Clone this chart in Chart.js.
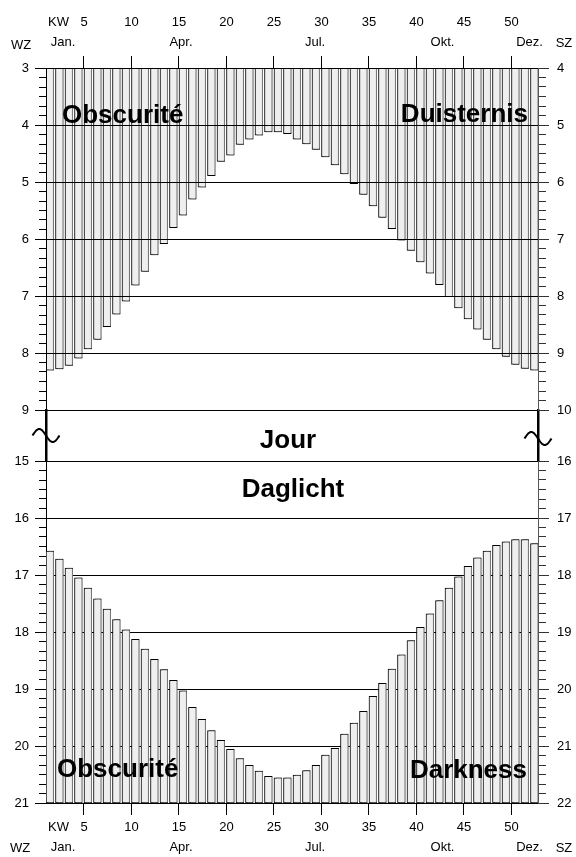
<!DOCTYPE html>
<html><head><meta charset="utf-8">
<script src="https://cdn.jsdelivr.net/npm/chart.js@4.4.1/dist/chart.umd.min.js"></script>
<style>html,body{margin:0;padding:0;background:#fff;}canvas{display:block;}</style>
</head><body>
<canvas id="c" width="576" height="857"></canvas>
<script>
// ---- data ----
const weeks = [1,2,3,4,5,6,7,8,9,10,11,12,13,14,15,16,17,18,19,20,21,22,23,24,25,26,
               27,28,29,30,31,32,33,34,35,36,37,38,39,40,41,42,43,44,45,46,47,48,49,50,51,52];
// sunrise (winter time, hours)
const sunriseWZ = [8.30,8.28,8.22,8.09,7.93,7.76,7.54,7.32,7.09,6.81,
                   6.57,6.28,6.08,5.80,5.58,5.30,5.09,4.89,4.64,4.53,
                   4.34,4.25,4.18,4.12,4.12,4.15,4.25,4.33,4.43,4.56,
                   4.70,4.86,5.03,5.22,5.42,5.62,5.82,6.02,6.20,6.40,
                   6.60,6.80,7.01,7.21,7.40,7.58,7.76,7.93,8.06,8.20,
                   8.27,8.30];
// sunset (winter time, hours)
const sunsetWZ = [16.58,16.72,16.88,17.05,17.23,17.42,17.60,17.78,17.96,18.13,
                  18.30,18.48,18.66,18.85,19.03,19.32,19.53,19.73,19.90,20.06,
                  20.22,20.34,20.44,20.53,20.56,20.56,20.51,20.43,20.34,20.16,
                  20.04,19.79,19.60,19.39,19.13,18.90,18.65,18.40,18.15,17.92,
                  17.68,17.45,17.23,17.03,16.85,16.70,16.58,16.48,16.42,16.38,
                  16.38,16.45];
const kwTickWeeks = [5,10,15,20,25,30,35,40,45,50];
const monthLabels = ['Jan.','Apr.','Jul.','Okt.','Dez.'];
const monthTickPos = [2.39,14.81,28.92,42.34,51.5];
const kwLabel = 'KW';
const kwLabelPos = 1.92;
const morningRange = [3, 9];    // WZ hours, upper panel
const eveningRange = [15, 21];  // WZ hours, lower panel
const szOffset = 1;             // SZ = WZ + 1

// ---- layout / style ----
const FONT = "'Liberation Sans', Arial, Helvetica, sans-serif";
const LEFT_W = 46, RIGHT_W = 38, TOP_H = 68, BOTTOM_H = 54;
const X_MIN = 0.6, X_MAX = 52.39;
const GAP_WEIGHT = 51/57;

Chart.defaults.font.family = FONT;
Chart.defaults.font.size = 13;
Chart.defaults.color = '#000';

const isHour = v => Math.abs(v - Math.round(v)) < 1e-6;
function hourTicks(scale) {
  const t = [];
  const n = Math.round((scale.max - scale.min) * 6);
  for (let k = 0; k <= n; k++) t.push({value: scale.min + k / 6});
  scale.ticks = t;
}
function yAxis(range, pos, weight, gridZ) {
  const right = pos === 'right';
  return {
    type: 'linear', position: pos, stack: pos, stackWeight: range[1] - range[0], weight: weight,
    min: range[0], max: range[1], reverse: true,
    afterBuildTicks: hourTicks,
    afterFit: s => { s.width = right ? RIGHT_W : LEFT_W; },
    ticks: { autoSkip: false, padding: right ? 8 : 6, color: '#000', font: {size: 13},
      callback: v => isHour(v) ? String(Math.round(v)) : '' },
    grid: {
      z: gridZ, drawOnChartArea: !right, lineWidth: 1, tickWidth: 1, tickLength: 11,
      color: c => (c.tick && isHour(c.tick.value)) ? '#000' : 'rgba(0,0,0,0)',
      tickColor: right ? '#333' : '#000',
      tickBorderDash: c => (c.tick && isHour(c.tick.value)) ? [] : (right ? [7, 40] : [0, 4, 40])
    },
    border: { z: Math.max(gridZ, 0), display: true, color: right ? '#555' : '#000', width: 1 }
  };
}
function gapAxis(pos, weight) {
  return {
    type: 'linear', position: pos, stack: pos, stackWeight: GAP_WEIGHT, weight: weight,
    min: 0, max: 1,
    afterFit: s => { s.width = pos === 'right' ? RIGHT_W : LEFT_W; },
    ticks: { display: false }, grid: { display: false },
    border: { display: true, color: '#000', width: 2.5 }
  };
}
function xTicks(pos) {
  const top = pos === 'top';
  const t = [{value: kwLabelPos, _lbl: top ? [kwLabel, ''] : kwLabel, _major: false}];
  kwTickWeeks.forEach(w => t.push({value: w - 0.4, _lbl: top ? [String(w), ''] : String(w), _major: true}));
  monthLabels.forEach((m, i) => t.push({value: monthTickPos[i], _lbl: top ? m : ['', m], _major: false}));
  t.sort((a, b) => a.value - b.value);
  return t;
}
function xAxis(pos) {
  const markColor = c => (c.tick && c.tick._major) ? '#000' : 'rgba(0,0,0,0)';
  return {
    type: 'linear', position: pos, min: X_MIN, max: X_MAX, offset: false,
    afterBuildTicks: s => { s.ticks = xTicks(pos); },
    afterFit: s => { s.height = pos === 'top' ? TOP_H : BOTTOM_H; },
    ticks: { autoSkip: false, maxRotation: 0, minRotation: 0, padding: pos === 'top' ? 4 : 2,
      color: '#000', font: {size: 13, lineHeight: 20/13},
      callback: (v, i, ticks) => ticks[i]._lbl },
    grid: { drawOnChartArea: false, offset: false, tickLength: 12, lineWidth: 1,
      color: markColor, tickColor: markColor },
    border: { display: true, color: '#000', width: 1 }
  };
}

const barStyle = {
  backgroundColor: '#efefef', borderColor: '#000', borderWidth: 1, borderSkipped: false,
  grouped: false, barThickness: 7.6, clip: 0
};

const decor = {
  id: 'decor',
  beforeDatasetsDraw(chart) {
    const c = chart.ctx; c.save();
    c.shadowColor = '#808080'; c.shadowOffsetX = 2; c.shadowOffsetY = 0; c.shadowBlur = 0;
  },
  afterDatasetsDraw(chart) { chart.ctx.restore(); },
  afterDraw(chart) {
    const ctx = chart.ctx, a = chart.chartArea;
    ctx.save();
    ctx.fillStyle = '#000';
    ctx.font = 'bold 26px ' + FONT;
    ctx.textBaseline = 'alphabetic';
    ctx.textAlign = 'left';
    ctx.fillText('Obscurité', a.left + 16, 123);
    ctx.fillText('Obscurité', a.left + 11, 777);
    ctx.textAlign = 'right';
    ctx.fillText('Duisternis', a.right - 10, 122);
    ctx.fillText('Darkness', a.right - 11, 778);
    ctx.textAlign = 'center';
    ctx.fillText('Jour', 288, 448);
    ctx.fillText('Daglicht', 293, 497);
    // time zone labels
    ctx.font = '13px ' + FONT;
    ctx.textBaseline = 'middle';
    ctx.fillText('WZ', 21, 45);
    ctx.fillText('WZ', 20, 848);
    ctx.fillText('SZ', 564, 43);
    ctx.fillText('SZ', 564, 848);
    // axis break symbols
    const yT = chart.scales.yTop, yB = chart.scales.yBot;
    const mid = (yT.bottom + yB.top) / 2;
    const tilde = (cx, cy) => {
      ctx.beginPath();
      for (let i = 0; i <= 48; i++) {
        const t = i / 48, x = cx - 13.5 + 27 * t, y = cy - 6.5 * Math.sin(2 * Math.PI * t);
        if (i) ctx.lineTo(x, y); else ctx.moveTo(x, y);
      }
      ctx.lineWidth = 2; ctx.strokeStyle = '#000'; ctx.stroke();
    };
    tilde(a.left, mid);
    tilde(a.right, mid + 3);
    ctx.restore();
  }
};

new Chart(document.getElementById('c'), {
  type: 'bar',
  data: {
    datasets: [
      Object.assign({ label: 'Sonnenaufgang (WZ)', xAxisID: 'x', yAxisID: 'yTop',
        data: weeks.map((w, i) => ({x: w, y: [morningRange[0], sunriseWZ[i]]})) }, barStyle),
      Object.assign({ label: 'Sonnenuntergang (WZ)', xAxisID: 'x', yAxisID: 'yBot',
        data: weeks.map((w, i) => ({x: w, y: [sunsetWZ[i], eveningRange[1]]})) }, barStyle)
    ]
  },
  options: {
    responsive: false, animation: false, devicePixelRatio: 1,
    layout: { padding: 0 },
    plugins: { legend: { display: false }, tooltip: { enabled: false } },
    scales: {
      x: xAxis('bottom'),
      x2: xAxis('top'),
      yTop: yAxis(morningRange, 'left', 3, 1),
      yGap: gapAxis('left', 2),
      yBot: yAxis(eveningRange, 'left', 1, -1),
      yTopR: yAxis([morningRange[0] + szOffset, morningRange[1] + szOffset], 'right', 1, 1),
      yGapR: gapAxis('right', 2),
      yBotR: yAxis([eveningRange[0] + szOffset, eveningRange[1] + szOffset], 'right', 3, -1)
    }
  },
  plugins: [decor]
});
</script>
</body></html>
